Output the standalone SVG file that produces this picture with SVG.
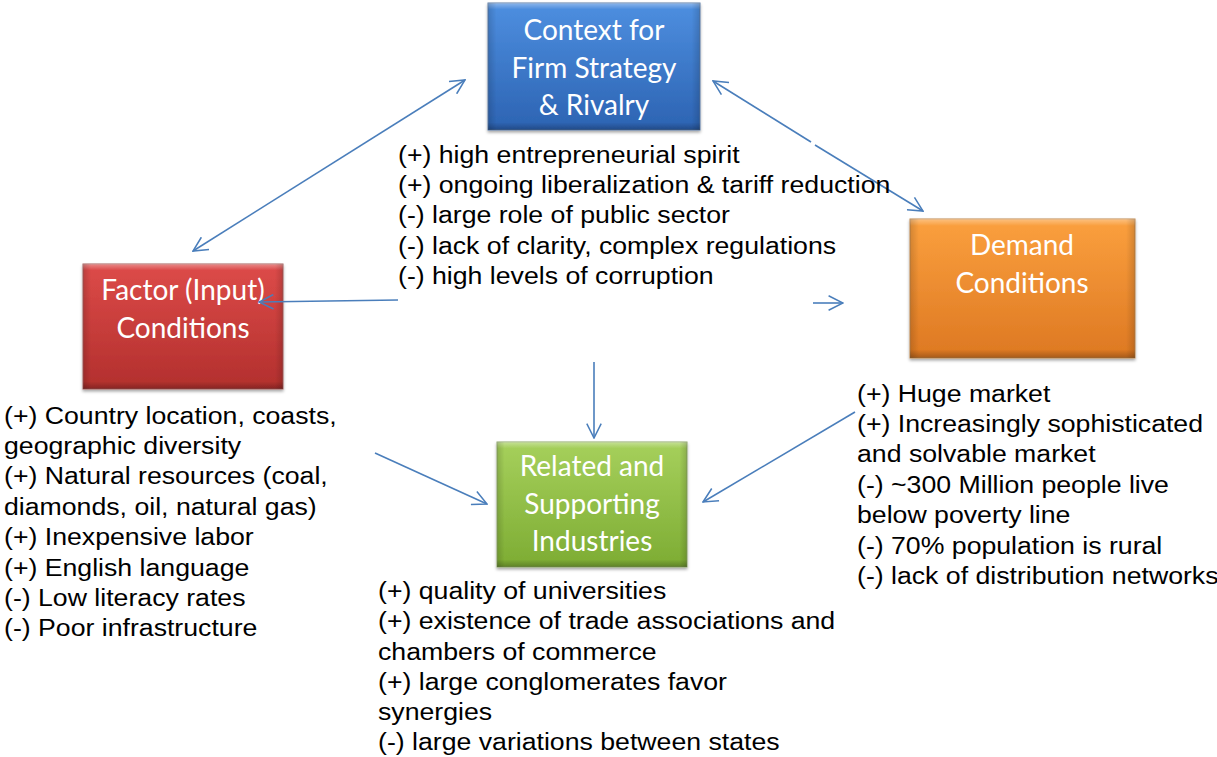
<svg xmlns="http://www.w3.org/2000/svg" width="1217" height="757" viewBox="0 0 1217 757">
  <defs>
    <linearGradient id="gBlue" x1="0" y1="0" x2="0" y2="1">
      <stop offset="0" stop-color="#4E8FE0"/>
      <stop offset="1" stop-color="#2C63B2"/>
    </linearGradient>
    <linearGradient id="gRed" x1="0" y1="0" x2="0" y2="1">
      <stop offset="0" stop-color="#DD4B49"/>
      <stop offset="1" stop-color="#B22F2D"/>
    </linearGradient>
    <linearGradient id="gOrange" x1="0" y1="0" x2="0" y2="1">
      <stop offset="0" stop-color="#FBA03E"/>
      <stop offset="1" stop-color="#DD7822"/>
    </linearGradient>
    <linearGradient id="gGreen" x1="0" y1="0" x2="0" y2="1">
      <stop offset="0" stop-color="#A6D05C"/>
      <stop offset="1" stop-color="#7DAC33"/>
    </linearGradient>
    <!-- bevel shading: light top rim, darker sides and bottom -->
    <linearGradient id="bevelV" x1="0" y1="0" x2="0" y2="1">
      <stop offset="0" stop-color="#fff" stop-opacity="0.35"/>
      <stop offset="0.05" stop-color="#fff" stop-opacity="0"/>
      <stop offset="0.94" stop-color="#000" stop-opacity="0"/>
      <stop offset="1" stop-color="#000" stop-opacity="0.25"/>
    </linearGradient>
    <linearGradient id="bevelH" x1="0" y1="0" x2="1" y2="0">
      <stop offset="0" stop-color="#000" stop-opacity="0.15"/>
      <stop offset="0.04" stop-color="#000" stop-opacity="0"/>
      <stop offset="0.96" stop-color="#000" stop-opacity="0"/>
      <stop offset="1" stop-color="#000" stop-opacity="0.15"/>
    </linearGradient>
    <filter id="shadow" x="-10%" y="-10%" width="120%" height="125%">
      <feDropShadow dx="0" dy="2" stdDeviation="1.5" flood-color="#000" flood-opacity="0.35"/>
    </filter>
    <marker id="arr" viewBox="0 0 10 10" refX="9.5" refY="5" markerWidth="16" markerHeight="16" markerUnits="userSpaceOnUse" orient="auto-start-reverse">
      <path d="M0.5,0.5 L9.5,5 L0.5,9.5" fill="none" stroke="#4A7EBB" stroke-width="0.95"/>
    </marker>
  </defs>
  <style>
    .box { stroke-width: 1; }
    .lbl { font-family: Lato, "Open Sans", "Liberation Sans", sans-serif; font-size: 28px; fill: #ffffff; text-anchor: middle; }
    .txt { font-family: "Liberation Sans", Arial, sans-serif; font-size: 23px; fill: #000000; }
    .conn { fill: none; stroke: #4A7EBB; stroke-width: 1.6; }
  </style>

  <rect width="1217" height="757" fill="#ffffff"/>

  <!-- Context for Firm Strategy & Rivalry -->
  <g id="node-context">
    <rect x="488" y="3" width="212" height="127" fill="url(#gBlue)" stroke="#5F7FA8" class="box" filter="url(#shadow)"/>
    <rect x="488" y="3" width="212" height="127" fill="url(#bevelV)"/>
    <rect x="488" y="3" width="212" height="127" fill="url(#bevelH)"/>
    <text class="lbl" x="594" y="40">Context for</text>
    <text class="lbl" x="594" y="78">Firm Strategy</text>
    <text class="lbl" x="594" y="115">&amp; Rivalry</text>
  </g>

  <!-- Factor (Input) Conditions -->
  <g id="node-factor">
    <rect x="83" y="264" width="200" height="125" fill="url(#gRed)" stroke="#A8605E" class="box" filter="url(#shadow)"/>
    <rect x="83" y="264" width="200" height="125" fill="url(#bevelV)"/>
    <rect x="83" y="264" width="200" height="125" fill="url(#bevelH)"/>
    <text class="lbl" x="183" y="300">Factor (Input)</text>
    <text class="lbl" x="183" y="338">Conditions</text>
  </g>

  <!-- Demand Conditions -->
  <g id="node-demand">
    <rect x="910" y="219" width="225" height="139" fill="url(#gOrange)" stroke="#C08A50" class="box" filter="url(#shadow)"/>
    <rect x="910" y="219" width="225" height="139" fill="url(#bevelV)"/>
    <rect x="910" y="219" width="225" height="139" fill="url(#bevelH)"/>
    <text class="lbl" x="1022" y="255">Demand</text>
    <text class="lbl" x="1022" y="293">Conditions</text>
  </g>

  <!-- Related and Supporting Industries -->
  <g id="node-related">
    <rect x="497" y="442" width="190" height="125" fill="url(#gGreen)" stroke="#8FA868" class="box" filter="url(#shadow)"/>
    <rect x="497" y="442" width="190" height="125" fill="url(#bevelV)"/>
    <rect x="497" y="442" width="190" height="125" fill="url(#bevelH)"/>
    <text class="lbl" x="592" y="476">Related and</text>
    <text class="lbl" x="592" y="514">Supporting</text>
    <text class="lbl" x="592" y="551">Industries</text>
  </g>

  <!-- connectors, drawn over the boxes -->
  <g id="connectors">
    <line class="conn" x1="465" y1="80" x2="193" y2="251" marker-start="url(#arr)" marker-end="url(#arr)"/>
    <line class="conn" x1="713" y1="81" x2="811" y2="142" marker-start="url(#arr)"/>
    <line class="conn" x1="815" y1="145" x2="923" y2="211" marker-end="url(#arr)"/>
    <line class="conn" x1="398" y1="300" x2="259" y2="302" marker-end="url(#arr)"/>
    <line class="conn" x1="813" y1="303" x2="843" y2="303" marker-end="url(#arr)"/>
    <line class="conn" x1="594" y1="362" x2="594" y2="438" marker-end="url(#arr)"/>
    <line class="conn" x1="375" y1="453" x2="487" y2="504" marker-end="url(#arr)"/>
    <line class="conn" x1="855" y1="412" x2="703" y2="502" marker-end="url(#arr)"/>
  </g>

  <!-- strategy / rivalry notes (text set slightly wide) -->
  <g id="notes-context" transform="translate(398,0) scale(1.16,1)">
    <text class="txt" x="0" y="163">(+) high entrepreneurial spirit</text>
    <text class="txt" x="0" y="193">(+) ongoing liberalization &amp; tariff reduction</text>
    <text class="txt" x="0" y="223">(-) large role of public sector</text>
    <text class="txt" x="0" y="254">(-) lack of clarity, complex regulations</text>
    <text class="txt" x="0" y="284">(-) high levels of corruption</text>
  </g>

  <!-- factor notes -->
  <g id="notes-factor" transform="translate(4,0) scale(1.16,1)">
    <text class="txt" x="0" y="424">(+) Country location, coasts,</text>
    <text class="txt" x="0" y="454">geographic diversity</text>
    <text class="txt" x="0" y="484">(+) Natural resources (coal,</text>
    <text class="txt" x="0" y="515">diamonds, oil, natural gas)</text>
    <text class="txt" x="0" y="545">(+) Inexpensive labor</text>
    <text class="txt" x="0" y="576">(+) English language</text>
    <text class="txt" x="0" y="606">(-) Low literacy rates</text>
    <text class="txt" x="0" y="636">(-) Poor infrastructure</text>
  </g>

  <!-- demand notes -->
  <g id="notes-demand" transform="translate(857,0) scale(1.16,1)">
    <text class="txt" x="0" y="402">(+) Huge market</text>
    <text class="txt" x="0" y="432">(+) Increasingly sophisticated</text>
    <text class="txt" x="0" y="462">and solvable market</text>
    <text class="txt" x="0" y="493">(-) ~300 Million people live</text>
    <text class="txt" x="0" y="523">below poverty line</text>
    <text class="txt" x="0" y="554">(-) 70% population is rural</text>
    <text class="txt" x="0" y="584">(-) lack of distribution networks</text>
  </g>

  <!-- related industries notes -->
  <g id="notes-related" transform="translate(378,0) scale(1.16,1)">
    <text class="txt" x="0" y="599">(+) quality of universities</text>
    <text class="txt" x="0" y="629">(+) existence of trade associations and</text>
    <text class="txt" x="0" y="660">chambers of commerce</text>
    <text class="txt" x="0" y="690">(+) large conglomerates favor</text>
    <text class="txt" x="0" y="720">synergies</text>
    <text class="txt" x="0" y="750">(-) large variations between states</text>
  </g>
</svg>
